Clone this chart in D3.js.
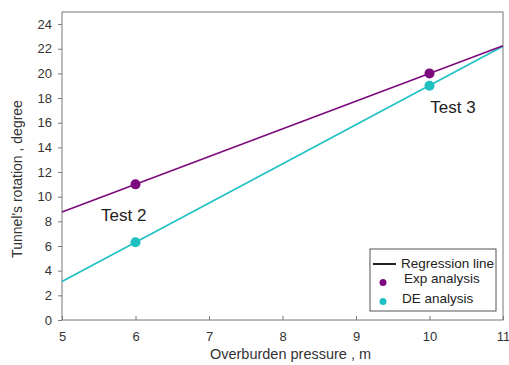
<!DOCTYPE html>
<html><head><meta charset="utf-8">
<script src="https://cdn.jsdelivr.net/npm/d3@7"></script>
<style>body{margin:0;background:#fff;} text{font-family:Arial, "Liberation Sans", sans-serif;}</style>
</head><body>
<svg id="c" width="509" height="365"></svg>
<script>
const xTicks = [5,6,7,8,9,10,11];
const yTicks = [0,2,4,6,8,10,12,14,16,18,20,22,24];
const expX = [6,10];
const expY = [11,20];
const deX = [6,10];
const deY = [6.3,19];
const expLineX = [5,11];
const expLineY = [8.75,22.25];
const deLineX = [5,11];
const deLineY = [3.12,22.2];
const labels = [{t:"Test 2", x:5.84, y:8.0},{t:"Test 3", x:10.32, y:16.75}];
const legendItems = ["Regression line","Exp analysis","DE analysis"];

const svg = d3.select("#c");
const L=62, R=503, T=12, B=320;
const x = d3.scaleLinear().domain([5,11]).range([L,R]);
const y = d3.scaleLinear().domain([0,25]).range([B,B-25*12.33]);
const axisCol="#777", txtCol="#333";
const purple="#7d0a7d", cyan="#1ec0c2";
const ff = "Arial, 'Liberation Sans', sans-serif";

// frame
svg.append("rect").attr("x",L).attr("y",T).attr("width",R-L).attr("height",B-T)
  .attr("fill","none").attr("stroke",axisCol).attr("stroke-width",1);

const ya = svg.append("g").attr("transform",`translate(${L},0)`)
  .call(d3.axisLeft(y).tickValues(yTicks).tickFormat(d3.format("d")).tickSize(4).tickPadding(6));
const xa = svg.append("g").attr("transform",`translate(0,${B})`)
  .call(d3.axisBottom(x).tickValues(xTicks).tickFormat(d3.format("d")).tickSize(-4).tickPadding(12));
[ya,xa].forEach(g=>{
  g.select(".domain").remove();
  g.selectAll("line").attr("stroke",axisCol);
  g.selectAll("text").attr("fill",txtCol).style("font-size","13px").style("font-family",ff);
});

const line = d3.line().x(d=>x(d[0])).y(d=>y(d[1]));
svg.append("path").datum(deLineX.map((v,i)=>[v,deLineY[i]])).attr("d",line)
  .attr("stroke",cyan).attr("stroke-width",1.6).attr("fill","none");
svg.append("path").datum(expLineX.map((v,i)=>[v,expLineY[i]])).attr("d",line)
  .attr("stroke",purple).attr("stroke-width",1.6).attr("fill","none");

svg.selectAll(".e").data(expX.map((v,i)=>[v,expY[i]])).enter().append("circle")
  .attr("cx",d=>x(d[0])).attr("cy",d=>y(d[1])).attr("r",5).attr("fill",purple);
svg.selectAll(".d").data(deX.map((v,i)=>[v,deY[i]])).enter().append("circle")
  .attr("cx",d=>x(d[0])).attr("cy",d=>y(d[1])).attr("r",5).attr("fill",cyan);

svg.selectAll(".lab").data(labels).enter().append("text")
  .attr("x",d=>x(d.x)).attr("y",d=>y(d.y)).attr("text-anchor","middle")
  .attr("fill","#222").style("font-size","17px").text(d=>d.t);

svg.append("text").attr("x",(L+R)/2+8).attr("y",359).attr("text-anchor","middle")
  .attr("fill",txtCol).style("font-size","14.5px").text("Overburden pressure , m");
svg.append("text").attr("transform",`translate(22,${(T+B)/2+13}) rotate(-90)`).attr("text-anchor","middle")
  .attr("fill",txtCol).style("font-size","14px").text("Tunnel's rotation , degree");

// legend
const lg = svg.append("g");
lg.append("rect").attr("x",370).attr("y",249).attr("width",126).attr("height",62)
  .attr("fill","#fff").attr("stroke","#555");
lg.append("line").attr("x1",373).attr("x2",396).attr("y1",264).attr("y2",264).attr("stroke","#222").attr("stroke-width",2);
lg.append("circle").attr("cx",383).attr("cy",282.5).attr("r",3.5).attr("fill",purple);
lg.append("circle").attr("cx",383).attr("cy",301.5).attr("r",3.5).attr("fill",cyan);
const lx=[401,404,402], ly=[263,278.5,298];
lg.selectAll(".lt").data(legendItems).enter().append("text")
  .attr("x",(d,i)=>lx[i]).attr("y",(d,i)=>ly[i]).attr("dy","0.35em")
  .attr("fill","#222").style("font-size","13.5px").text(d=>d);
</script>
</body></html>
